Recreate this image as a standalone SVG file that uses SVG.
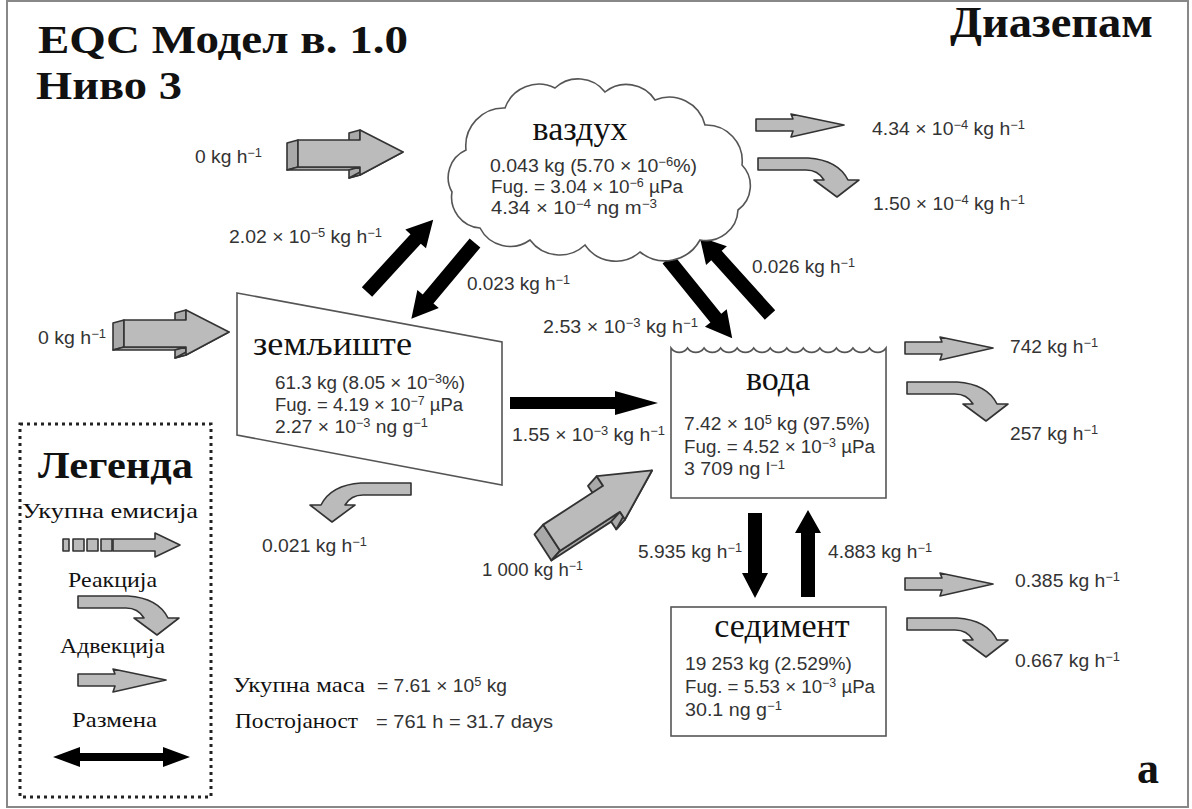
<svg xmlns="http://www.w3.org/2000/svg" xmlns:xlink="http://www.w3.org/1999/xlink" width="1192" height="809" viewBox="0 0 1192 809">
<style>
.t{font-family:"Liberation Sans","Open Sans",sans-serif;font-size:18px;fill:#333}
.s{font-size:12px}
.ser{font-family:"Liberation Serif","DejaVu Serif",serif;fill:#111}
.ttl{font-family:"Liberation Serif","DejaVu Serif",serif;font-size:34px;fill:#111}
.node{fill:#fff;stroke:#555;stroke-width:1.6}
.blk{fill:#000}
.gry{fill:#bbb;stroke:#333;stroke-width:1.6;stroke-linejoin:round}
.gry2{fill:#a9a9a9;stroke:#333;stroke-width:1.6;stroke-linejoin:round}
</style>
<defs>
<g id="emit">
<polygon class="gry2" points="0,-12 11,-15 11,12 0,15"/>
<polygon class="gry2" points="0,15 11,12 73,12 62,15"/>
<polygon class="gry2" points="62,-22 73,-25 73,-15 62,-12"/>
<polygon class="gry2" points="73,12 73,20 62,23 62,15"/>
<polygon class="gry2" points="73,20 116,-3 105,0 62,23"/>
<polygon class="gry" points="11,-15 73,-15 73,-25 116,-3 73,20 73,12 11,12"/>
</g>
<path id="react" class="gry" d="M0,0 H50 Q80,2 90,22 H101 L79,39 L56,22 H66 Q60,12 48,12 H0 Z"/>
<path id="adv" class="gry" d="M0,-6 H37 L35,-11 L88,0 L35,12 L37,6 H0 Z"/>
</defs>
<rect x="0" y="0" width="1192" height="809" fill="#fff"/>
<rect x="7" y="1" width="1181" height="806" fill="none" stroke="#888" stroke-width="2"/>

<text class="ser" x="38" y="53" font-size="41" font-weight="bold" textLength="370" lengthAdjust="spacingAndGlyphs">EQC Модел в. 1.0</text>
<text class="ser" x="36" y="99" font-size="41" font-weight="bold" textLength="146" lengthAdjust="spacingAndGlyphs">Ниво 3</text>
<text class="ser" x="950" y="37" font-size="44" font-weight="bold" textLength="203" lengthAdjust="spacingAndGlyphs">Диазепам</text>
<text class="ser" x="1137" y="783" font-size="44" font-weight="bold">a</text>

<g id="connectors">
<polygon class="blk" transform="translate(510,403)" points="0,-6 105,-6 105,-12 148,0 105,12 105,6 0,6"/>
<polygon class="blk" transform="translate(755,513) rotate(90)" points="0,-7 60,-7 60,-13 85,0 60,13 60,7 0,7"/>
<polygon class="blk" transform="translate(808,597) rotate(-90)" points="0,-7 64,-7 64,-13 87,0 64,13 64,7 0,7"/>
<polygon class="blk" transform="translate(668,259) rotate(51)" points="0,-7 76,-7 76,-14 102,0 76,14 76,7 0,7"/>
<polygon class="blk" transform="translate(770,315) rotate(-132)" points="0,-7 80,-7 80,-14 105,0 80,14 80,7 0,7"/>
<polygon class="blk" transform="translate(367,292) rotate(-47.5)" points="0,-7 72,-7 72,-14 98,0 72,14 72,7 0,7"/>
<polygon class="blk" transform="translate(475,243) rotate(130)" points="0,-7 73,-7 73,-14 99,0 73,14 73,7 0,7"/>
<use xlink:href="#emit" transform="translate(287,155)"/>
<use xlink:href="#emit" transform="translate(113,335)"/>
<use xlink:href="#emit" transform="translate(542,546) rotate(-33) scale(1.15)"/>
<use xlink:href="#react" transform="translate(758,158)"/>
<use xlink:href="#react" transform="translate(907,382)"/>
<use xlink:href="#react" transform="translate(907,618)"/>
<use xlink:href="#react" transform="translate(411,483) scale(-1,1)"/>
<use xlink:href="#adv" transform="translate(756,125)"/>
<use xlink:href="#adv" transform="translate(905,348)"/>
<use xlink:href="#adv" transform="translate(905,584)"/>

<text class="t" x="195" y="163" textLength="67" lengthAdjust="spacingAndGlyphs">0 kg h<tspan class="s" dy="-6">−1</tspan></text>
<text class="t" x="38" y="344" textLength="68" lengthAdjust="spacingAndGlyphs">0 kg h<tspan class="s" dy="-6">−1</tspan></text>
<text class="t" x="229" y="243" textLength="153" lengthAdjust="spacingAndGlyphs">2.02 × 10<tspan class="s" dy="-6">−5</tspan><tspan dy="6"> kg h</tspan><tspan class="s" dy="-6">−1</tspan></text>
<text class="t" x="467" y="290" textLength="103" lengthAdjust="spacingAndGlyphs">0.023 kg h<tspan class="s" dy="-6">−1</tspan></text>
<text class="t" x="752" y="273" textLength="103" lengthAdjust="spacingAndGlyphs">0.026 kg h<tspan class="s" dy="-6">−1</tspan></text>
<text class="t" x="543" y="333" textLength="155" lengthAdjust="spacingAndGlyphs">2.53 × 10<tspan class="s" dy="-6">−3</tspan><tspan dy="6"> kg h</tspan><tspan class="s" dy="-6">−1</tspan></text>
<text class="t" x="512" y="441" textLength="153" lengthAdjust="spacingAndGlyphs">1.55 × 10<tspan class="s" dy="-6">−3</tspan><tspan dy="6"> kg h</tspan><tspan class="s" dy="-6">−1</tspan></text>
<text class="t" x="872" y="135" textLength="153" lengthAdjust="spacingAndGlyphs">4.34 × 10<tspan class="s" dy="-6">−4</tspan><tspan dy="6"> kg h</tspan><tspan class="s" dy="-6">−1</tspan></text>
<text class="t" x="873" y="210" textLength="152" lengthAdjust="spacingAndGlyphs">1.50 × 10<tspan class="s" dy="-6">−4</tspan><tspan dy="6"> kg h</tspan><tspan class="s" dy="-6">−1</tspan></text>
<text class="t" x="1010" y="353" textLength="88" lengthAdjust="spacingAndGlyphs">742 kg h<tspan class="s" dy="-6">−1</tspan></text>
<text class="t" x="1010" y="440" textLength="88" lengthAdjust="spacingAndGlyphs">257 kg h<tspan class="s" dy="-6">−1</tspan></text>
<text class="t" x="262" y="552" textLength="105" lengthAdjust="spacingAndGlyphs">0.021 kg h<tspan class="s" dy="-6">−1</tspan></text>
<text class="t" x="482" y="576" textLength="101" lengthAdjust="spacingAndGlyphs">1 000 kg h<tspan class="s" dy="-6">−1</tspan></text>
<text class="t" x="638" y="558" textLength="104" lengthAdjust="spacingAndGlyphs">5.935 kg h<tspan class="s" dy="-6">−1</tspan></text>
<text class="t" x="828" y="558" textLength="104" lengthAdjust="spacingAndGlyphs">4.883 kg h<tspan class="s" dy="-6">−1</tspan></text>
<text class="t" x="1015" y="587" textLength="105" lengthAdjust="spacingAndGlyphs">0.385 kg h<tspan class="s" dy="-6">−1</tspan></text>
<text class="t" x="1015" y="667" textLength="105" lengthAdjust="spacingAndGlyphs">0.667 kg h<tspan class="s" dy="-6">−1</tspan></text>
</g>

<g id="air">
<path class="node" d="M452,192 A30,30 0 0 1 466,150 A38,38 0 0 1 505,108 A36,36 0 0 1 555,88 A34,34 0 0 1 605,92 A34,34 0 0 1 655,100 A37,37 0 0 1 705,125 A36,36 0 0 1 742,165 A30,30 0 0 1 738,210 A32,32 0 0 1 700,240 A40,40 0 0 1 640,252 A37,37 0 0 1 585,245 A37,37 0 0 1 530,240 A34,34 0 0 1 480,228 A31,31 0 0 1 452,192 Z"/>
<text class="ttl" x="580" y="140" text-anchor="middle">ваздух</text>
<text class="t" x="490" y="172" textLength="207" lengthAdjust="spacingAndGlyphs">0.043 kg (5.70 × 10<tspan class="s" dy="-6">−6</tspan><tspan dy="6">%)</tspan></text>
<text class="t" x="491" y="193" textLength="192" lengthAdjust="spacingAndGlyphs">Fug. = 3.04 × 10<tspan class="s" dy="-6">−6</tspan><tspan dy="6"> µPa</tspan></text>
<text class="t" x="491" y="214" textLength="166" lengthAdjust="spacingAndGlyphs">4.34 × 10<tspan class="s" dy="-6">−4</tspan><tspan dy="6"> ng m</tspan><tspan class="s" dy="-6">−3</tspan></text>
</g>

<g id="soil">
<polygon class="node" points="237,293 502,342 502,485 237,435"/>
<text class="ttl" x="253" y="355" textLength="159" lengthAdjust="spacingAndGlyphs">земљиште</text>
<text class="t" x="275" y="389" textLength="190" lengthAdjust="spacingAndGlyphs">61.3 kg (8.05 × 10<tspan class="s" dy="-6">−3</tspan><tspan dy="6">%)</tspan></text>
<text class="t" x="275" y="411" textLength="188" lengthAdjust="spacingAndGlyphs">Fug. = 4.19 × 10<tspan class="s" dy="-6">−7</tspan><tspan dy="6"> µPa</tspan></text>
<text class="t" x="275" y="433" textLength="153" lengthAdjust="spacingAndGlyphs">2.27 × 10<tspan class="s" dy="-6">−3</tspan><tspan dy="6"> ng g</tspan><tspan class="s" dy="-6">−1</tspan></text>
</g>

<g id="water">
<path class="node" d="M671,348 a10,10 0 0 0 16.54,0 a10,10 0 0 0 16.54,0 a10,10 0 0 0 16.54,0 a10,10 0 0 0 16.54,0 a10,10 0 0 0 16.54,0 a10,10 0 0 0 16.54,0 a10,10 0 0 0 16.54,0 a10,10 0 0 0 16.54,0 a10,10 0 0 0 16.54,0 a10,10 0 0 0 16.54,0 a10,10 0 0 0 16.54,0 a10,10 0 0 0 16.54,0 a10,10 0 0 0 16.54,0 L886,498 L671,498 Z"/>
<text class="ttl" x="778" y="390" text-anchor="middle">вода</text>
<text class="t" x="684" y="430" textLength="186" lengthAdjust="spacingAndGlyphs">7.42 × 10<tspan class="s" dy="-6">5</tspan><tspan dy="6"> kg (97.5%)</tspan></text>
<text class="t" x="684" y="453" textLength="191" lengthAdjust="spacingAndGlyphs">Fug. = 4.52 × 10<tspan class="s" dy="-6">−3</tspan><tspan dy="6"> µPa</tspan></text>
<text class="t" x="684" y="475" textLength="101" lengthAdjust="spacingAndGlyphs">3 709 ng l<tspan class="s" dy="-6">−1</tspan></text>
</g>

<g id="sediment">
<rect class="node" x="671" y="607" width="215" height="129"/>
<text class="ttl" x="782" y="637" text-anchor="middle">седимент</text>
<text class="t" x="685" y="670" textLength="167" lengthAdjust="spacingAndGlyphs">19 253 kg (2.529%)</text>
<text class="t" x="685" y="693" textLength="190" lengthAdjust="spacingAndGlyphs">Fug. = 5.53 × 10<tspan class="s" dy="-6">−3</tspan><tspan dy="6"> µPa</tspan></text>
<text class="t" x="685" y="716" textLength="97" lengthAdjust="spacingAndGlyphs">30.1 ng g<tspan class="s" dy="-6">−1</tspan></text>
</g>

<g id="totals">
<text class="ser" x="233" y="692" font-size="21" textLength="132" lengthAdjust="spacingAndGlyphs">Укупна маса</text>
<text class="t" x="377" y="692" textLength="130" lengthAdjust="spacingAndGlyphs">= 7.61 × 10<tspan class="s" dy="-6">5</tspan><tspan dy="6"> kg</tspan></text>
<text class="ser" x="235" y="728" font-size="21" textLength="123" lengthAdjust="spacingAndGlyphs">Постојаност</text>
<text class="t" x="376" y="728" textLength="177" lengthAdjust="spacingAndGlyphs">= 761 h = 31.7 days</text>
</g>

<g id="legend">
<rect x="20" y="424" width="191" height="373" fill="none" stroke="#222" stroke-width="3" stroke-dasharray="3 4"/>
<text class="ser" x="38" y="478" font-size="37" font-weight="bold" textLength="155" lengthAdjust="spacingAndGlyphs">Легенда</text>
<text class="ser" x="22" y="518" font-size="22" textLength="176" lengthAdjust="spacingAndGlyphs">Укупна емисија</text>
<rect class="gry" x="63" y="539" width="6" height="12"/>
<rect class="gry" x="73" y="539" width="11" height="12"/>
<rect class="gry" x="87" y="539" width="11" height="12"/>
<rect class="gry" x="101" y="539" width="11" height="12"/>
<path class="gry" d="M113,539 H155 V533 L180,545 L155,557 V551 H113 Z"/>
<text class="ser" x="68" y="587" font-size="22" textLength="89" lengthAdjust="spacingAndGlyphs">Реакција</text>
<use xlink:href="#react" transform="translate(78,596)"/>
<text class="ser" x="60" y="653" font-size="22" textLength="105" lengthAdjust="spacingAndGlyphs">Адвекција</text>
<use xlink:href="#adv" transform="translate(78,680)"/>
<text class="ser" x="72" y="727" font-size="22" textLength="85" lengthAdjust="spacingAndGlyphs">Размена</text>
<polygon class="blk" points="53,757 80,747 80,753 163,753 163,747 190,757 163,767 163,761 80,761 80,767"/>
</g>
</svg>
